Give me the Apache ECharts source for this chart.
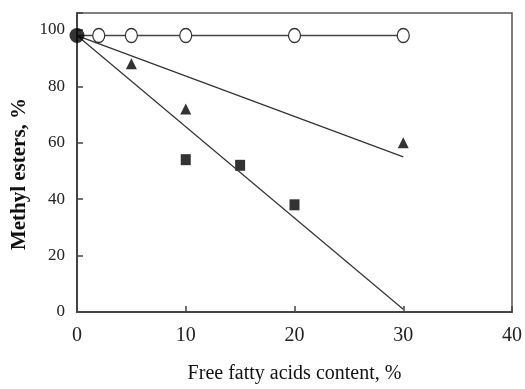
<!DOCTYPE html>
<html><head><meta charset="utf-8">
<script src="https://cdn.jsdelivr.net/npm/echarts@6/dist/echarts.min.js"></script>
<style>html,body{margin:0;padding:0;background:#fff}#c{width:525px;height:389px}</style>
</head><body><div id="c"></div>
<script>
const xTicks = [0, 10, 20, 30, 40];
const yTicks = [0, 20, 40, 60, 80, 100];
const xTitle = 'Free fatty acids content, %';
const yTitle = 'Methyl esters, %';
const circleX = [0, 2, 5, 10, 20, 30];
const circleY = [98, 98, 98, 98, 98, 98];
const startX = [0];
const startY = [98];
const triX = [5, 10, 30];
const triY = [88, 72, 60];
const sqX = [10, 15, 20];
const sqY = [54, 52, 38];
const fitUpperX = [0, 30];
const fitUpperY = [98, 55];
const fitLowerX = [0, 30];
const fitLowerY = [98, 1];

const zip = (a, b) => a.map((v, i) => [v, b[i]]);
const font = '"Liberation Serif", "Times New Roman", serif';
const chart = echarts.init(document.getElementById('c'));
chart.setOption({
  animation: false,
  backgroundColor: '#fff',
  grid: { left: 77, right: 10, top: 13, bottom: 73, show: true, borderColor: '#555', borderWidth: 1.5 },
  graphic: [{
    type: 'text', x: 20, y: 174, rotation: Math.PI / 2,
    style: { text: yTitle, font: 'bold 21px ' + font, fill: '#111', align: 'center', verticalAlign: 'middle' }
  }],
  xAxis: {
    type: 'value', min: 0, max: 40, interval: 10,
    name: xTitle, nameLocation: 'middle', nameGap: 52,
    nameTextStyle: { fontFamily: font, fontSize: 20, color: '#111' },
    axisLine: { lineStyle: { color: '#444', width: 2 } },
    axisTick: { inside: true, length: 6, lineStyle: { color: '#444', width: 1.5 } },
    axisLabel: { fontFamily: font, fontSize: 20, color: '#222', margin: 14,
      formatter: v => xTicks.includes(v) ? String(v) : '' },
    splitLine: { show: false }
  },
  yAxis: {
    type: 'value', min: 0, max: 106, interval: 20,
    axisLine: { lineStyle: { color: '#444', width: 2 } },
    axisTick: { inside: true, length: 6, lineStyle: { color: '#444', width: 1.5 } },
    axisLabel: { fontFamily: font, fontSize: 17, color: '#222', margin: 12,
      formatter: v => yTicks.includes(v) ? String(v) : '' },
    splitLine: { show: false }
  },
  series: [
    { type: 'line', data: zip(fitUpperX, fitUpperY), symbol: 'none', clip: false,
      lineStyle: { color: '#333', width: 1.2 } },
    { type: 'line', data: zip(fitLowerX, fitLowerY), symbol: 'none', clip: false,
      lineStyle: { color: '#333', width: 1.2 } },
    { type: 'line', data: zip(circleX, circleY).map((p, i) => i === 0 ? { value: p, symbol: 'none' } : p),
      symbol: 'circle', symbolSize: [12, 14], clip: false,
      itemStyle: { color: '#fff', borderColor: '#333', borderWidth: 1.3 },
      lineStyle: { color: '#444', width: 1.5 } },
    { type: 'scatter', data: zip(startX, startY), symbol: 'circle', symbolSize: 15, clip: false,
      itemStyle: { color: '#000' }, z: 5 },
    { type: 'scatter', data: zip(triX, triY), symbol: 'triangle', symbolSize: [11, 11], clip: false,
      itemStyle: { color: '#000' } },
    { type: 'scatter', data: zip(sqX, sqY), symbol: 'rect', symbolSize: [10, 11], clip: false,
      itemStyle: { color: '#000' } }
  ]
});
</script></body></html>
